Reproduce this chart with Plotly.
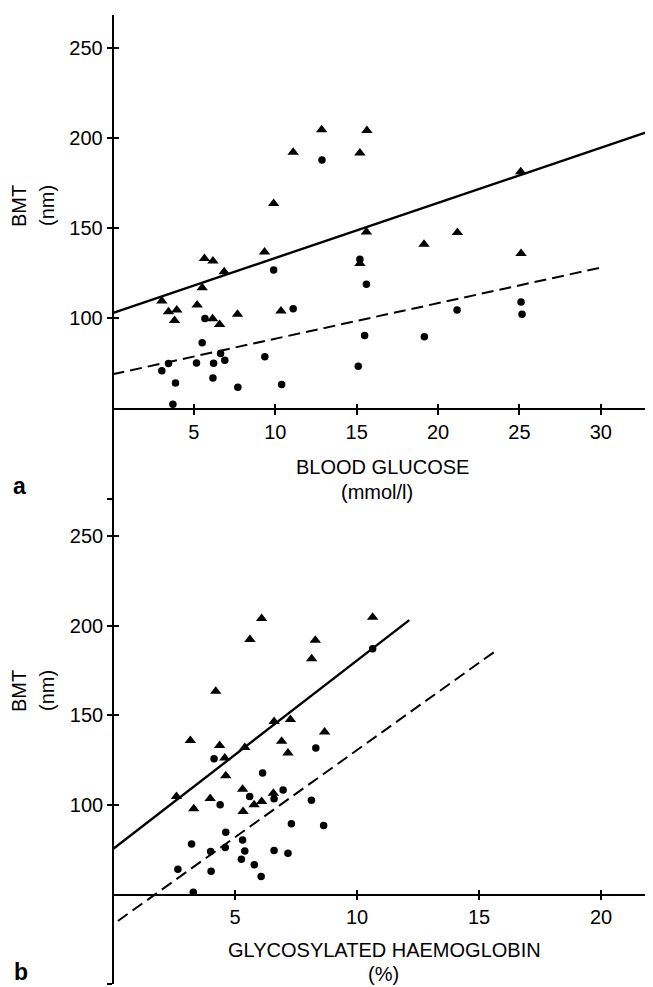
import plotly.graph_objects as go

# ---------------- data: panel a (blood glucose) ----------------
a_tri_x = [12.85, 15.63, 11.1, 15.2, 9.9, 15.6, 15.2, 5.65, 6.17, 6.86, 9.34, 5.51,
           3.03, 3.44, 3.95, 3.81, 5.2, 6.15, 6.58, 7.68, 10.35, 25.08, 19.14, 21.19, 25.1]
a_tri_y = [204.8, 204.4, 192.3, 192.0, 163.9, 148.1, 130.5, 133.3, 132.0, 125.9, 137.0, 117.1,
           109.7, 103.8, 104.7, 98.9, 107.5, 99.9, 96.7, 102.3, 104.1, 181.5, 141.3, 147.8, 136.1]
a_dot_x = [12.87, 15.2, 15.6, 9.9, 5.68, 11.1, 5.51, 3.44, 3.03, 5.16, 6.21, 6.64, 6.9,
           9.36, 3.87, 6.17, 7.7, 10.39, 3.71, 15.1, 15.49, 21.17, 19.16, 25.1, 25.16]
a_dot_y = [188.1, 132.9, 119.0, 127.0, 100.0, 105.4, 86.5, 75.0, 70.9, 75.3, 75.2, 80.5, 76.8,
           78.7, 64.2, 67.0, 61.8, 63.3, 52.3, 73.5, 90.6, 104.7, 89.8, 109.1, 102.4]
a_solid_x = [0, 32.9]
a_solid_y = [103.0, 203.7]
a_dash_x = [0, 30.06]
a_dash_y = [69.0, 128.4]

# ---------------- data: panel b (glycosylated haemoglobin) ----------------
b_tri_x = [6.09, 10.64, 5.61, 8.29, 8.14, 4.21, 3.17, 4.37, 4.58, 4.62, 5.4, 6.6, 7.27,
           6.91, 7.17, 8.67, 2.6, 3.31, 3.98, 5.31, 5.33, 5.78, 6.09, 6.57]
b_tri_y = [204.0, 204.7, 192.3, 191.9, 181.5, 163.4, 136.0, 133.2, 126.2, 116.3, 132.1, 146.5, 147.6,
           135.5, 129.0, 140.7, 104.7, 97.9, 103.6, 108.8, 96.4, 100.1, 102.0, 106.5]
b_dot_x = [10.64, 4.14, 6.13, 8.31, 4.39, 5.6, 6.6, 6.97, 8.13, 7.31, 8.63, 4.62, 3.22,
           4.0, 4.6, 5.31, 5.4, 6.6, 7.17, 5.26, 2.66, 4.02, 5.79, 6.07, 3.29]
b_dot_y = [187.1, 125.8, 117.8, 131.8, 100.1, 104.7, 103.5, 108.3, 102.7, 89.5, 88.5, 84.8, 78.3,
           74.0, 76.3, 80.5, 74.4, 74.6, 73.1, 69.7, 64.2, 63.0, 66.6, 60.1, 51.3]
b_solid_x = [0, 12.14]
b_solid_y = [75.4, 203.1]
b_dash_x = [0.2, 15.67]
b_dash_y = [35.3, 185.8]

x_ticks_a = [5, 10, 15, 20, 25, 30]
x_ticks_b = [5, 10, 15, 20]
y_ticks = [0, 100, 150, 200, 250]
y_ticktext = ["", "100", "150", "200", "250"]

# page body has an 8px margin; the figure is sized to fill the rest of the window
OFF = 8
W, H = 653 - OFF, 987 - OFF
FONT = "Liberation Sans, Arial, sans-serif"


def px(v):
    return (v - OFF) / W


def py(v):
    return 1 - (v - OFF) / H


fig = go.Figure()

tri = dict(symbol="triangle-up", size=10, color="black")
dot = dict(symbol="circle", size=7.5, color="black")

for xa, ya, tx, ty, dx, dy, sx, sy, qx, qy in [
    ("x", "y", a_tri_x, a_tri_y, a_dot_x, a_dot_y, a_solid_x, a_solid_y, a_dash_x, a_dash_y),
    ("x2", "y2", b_tri_x, b_tri_y, b_dot_x, b_dot_y, b_solid_x, b_solid_y, b_dash_x, b_dash_y),
]:
    fig.add_trace(go.Scatter(x=sx, y=sy, mode="lines", xaxis=xa, yaxis=ya,
                             line=dict(color="black", width=2.4), showlegend=False))
    fig.add_trace(go.Scatter(x=qx, y=qy, mode="lines", xaxis=xa, yaxis=ya,
                             line=dict(color="black", width=2, dash="12px,6px"), showlegend=False))
    fig.add_trace(go.Scatter(x=tx, y=ty, mode="markers", xaxis=xa, yaxis=ya,
                             marker=tri, showlegend=False))
    fig.add_trace(go.Scatter(x=dx, y=dy, mode="markers", xaxis=xa, yaxis=ya,
                             marker=dot, showlegend=False))

# invisible traces for the overlay (inside-tick) axes
fig.add_trace(go.Scatter(x=[None], y=[None], xaxis="x3", yaxis="y3", showlegend=False))
fig.add_trace(go.Scatter(x=[None], y=[None], xaxis="x4", yaxis="y4", showlegend=False))

tickfont = dict(family=FONT, size=20, color="black")

# panel a geometry (window pixels)
ax_dom = [px(112.5), px(648)]
ax_rng = [0, 32.9]
ay_dom = [py(498.5), py(15)]
ay_rng = [0, 268.6]
ax_pos = py(409.3)
ay_pos = px(112.5)
# panel b geometry
bx_dom = [px(113), px(646)]
bx_rng = [0, 21.84]
by_dom = [py(984.3), py(498.5)]
by_rng = [0, 270.9]
bx_pos = py(894.6)
by_pos = px(113)

common = dict(showgrid=False, zeroline=False, linecolor="black", linewidth=1.6,
              tickcolor="black", tickwidth=1.5, ticklen=5, tickfont=tickfont, fixedrange=True)
overlay = dict(showgrid=False, zeroline=False, showline=False, showticklabels=False,
               tickcolor="black", tickwidth=1.5, ticklen=5, ticks="inside", fixedrange=True)

fig.update_layout(
    width=W, height=H,
    margin=dict(l=0, r=0, t=0, b=0),
    paper_bgcolor="white", plot_bgcolor="white",
    font=dict(family=FONT, color="black"),
    xaxis=dict(domain=ax_dom, range=ax_rng, anchor="free", position=ax_pos,
               tickvals=x_ticks_a, ticks="outside", showline=True, **common),
    yaxis=dict(domain=ay_dom, range=ay_rng, anchor="free", position=ay_pos,
               tickvals=y_ticks, ticktext=y_ticktext, ticks="outside", showline=True, **common),
    xaxis2=dict(domain=bx_dom, range=bx_rng, anchor="free", position=bx_pos,
                tickvals=x_ticks_b, ticks="outside", showline=True, **common),
    yaxis2=dict(domain=by_dom, range=by_rng, anchor="free", position=by_pos,
                tickvals=y_ticks, ticktext=y_ticktext, ticks="outside", showline=True, **common),
    xaxis3=dict(overlaying="x", range=ax_rng, anchor="free", position=ax_pos,
                tickvals=x_ticks_a, side="bottom", **overlay),
    yaxis3=dict(overlaying="y", range=ay_rng, anchor="free", position=ay_pos,
                tickvals=y_ticks, side="left", **overlay),
    xaxis4=dict(overlaying="x2", range=bx_rng, anchor="free", position=bx_pos,
                tickvals=x_ticks_b, side="bottom", **overlay),
    yaxis4=dict(overlaying="y2", range=by_rng, anchor="free", position=by_pos,
                tickvals=y_ticks, side="left", **overlay),
)

title_font = dict(family=FONT, size=20, color="black")
ann = [
    ("BLOOD GLUCOSE", 382, 467, 0, title_font),
    ("(mmol/l)", 377, 492, 0, title_font),
    ("GLYCOSYLATED HAEMOGLOBIN", 385, 950, 0, title_font),
    ("(%)", 383, 974, 0, title_font),
    ("BMT", 19, 206, -90, title_font),
    ("(nm)", 47, 206, -90, title_font),
    ("BMT", 19, 691, -90, title_font),
    ("(nm)", 47, 691, -90, title_font),
    ("<b>a</b>", 19, 486, 0, dict(family=FONT, size=23, color="black")),
    ("<b>b</b>", 21, 972, 0, dict(family=FONT, size=23, color="black")),
]
for text, x, y, ang, f in ann:
    fig.add_annotation(text=text, x=px(x), y=py(y), xref="paper", yref="paper",
                       xanchor="center", yanchor="middle", showarrow=False,
                       textangle=ang, font=f)

fig.write_html("out.html")
